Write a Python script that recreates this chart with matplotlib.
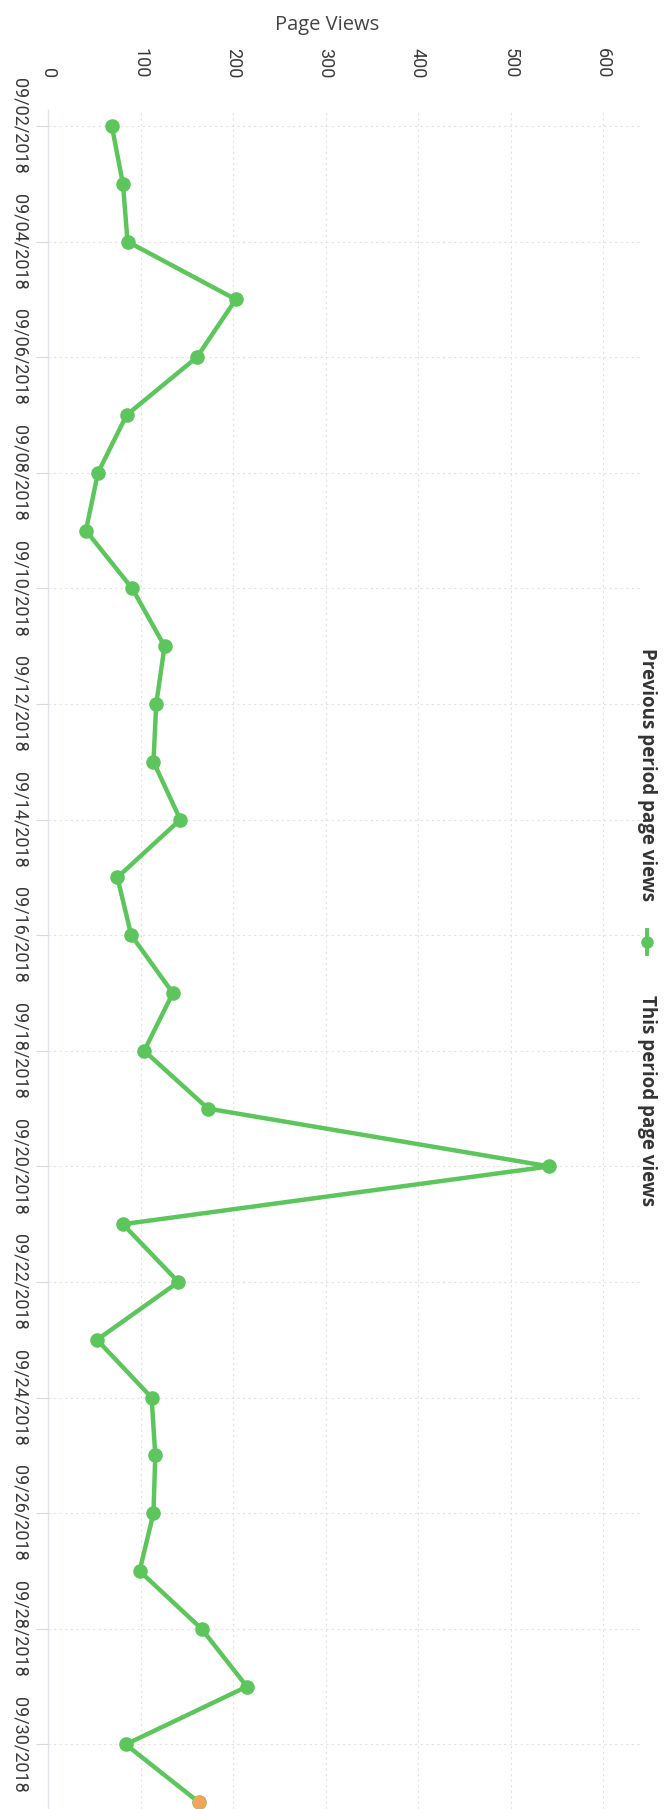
import pandas as pd
import matplotlib.pyplot as plt
from matplotlib.lines import Line2D

# ----------------------------------------------------
# Data
# ----------------------------------------------------
dates = pd.date_range("2018-09-02", "2018-10-01", freq="D")
this_period = [69, 81, 86, 203, 161, 85, 54, 41, 91, 126,
               117, 114, 143, 75, 90, 135, 104, 173, 542, 81,
               141, 53, 112, 116, 114, 99, 166, 215, 84, 163]
previous_dates = ["2018-10-01"]
previous_period = [163]
value_ticks = [0, 100, 200, 300, 400, 500, 600]

GREEN = "#5cc65c"
ORANGE = "#f2a55a"
TEXT = "#3a3a3a"

W, H = 667, 1809
fig = plt.figure(figsize=(W / 100, H / 100), dpi=100)

# chart is drawn turned a quarter turn: values run left->right, dates top->bottom
ax_left, ax_right, ax_top = 48, 640, 110
ax = fig.add_axes([ax_left / W, 0, (ax_right - ax_left) / W, (H - ax_top) / H])

day = [(d - dates[0]).days for d in dates]
prev_day = [(pd.Timestamp(d) - dates[0]).days for d in previous_dates]

ax.plot(this_period, day, color=GREEN, lw=3.2, marker="o", ms=10.5,
        markeredgewidth=0, solid_joinstyle="round", zorder=3)
ax.plot(previous_period, prev_day, color=ORANGE, lw=0, marker="o", ms=10,
        markeredgewidth=0, zorder=4)

# ----------------------------------------------------
# Axes layout
# ----------------------------------------------------
step = 57.8  # px per day
ax.set_ylim((H - 126) / step, (ax_top - 126) / step)
ax.set_xlim(0, (ax_right - ax_left) / 0.925)

ax.xaxis.tick_top()
ax.set_xticks(value_ticks)
ax.set_xticklabels([str(v) for v in value_ticks], rotation=270,
                   fontfamily="Roboto", fontsize=13, color=TEXT)
ax.tick_params(axis="x", length=0, pad=23)

tick_days = day[::2][:15]
ax.set_yticks(tick_days)
ax.set_yticklabels([dates[i].strftime("%m/%d/%Y") for i in tick_days],
                   rotation=270, fontfamily="Roboto", fontsize=13, color=TEXT,
                   va="center")
ax.tick_params(axis="y", length=9, color="#d5d9de", width=0.8, pad=5)

for s in ["top", "right", "bottom"]:
    ax.spines[s].set_visible(False)
ax.spines["left"].set_color("#dfe4ea")
ax.spines["left"].set_linewidth(1)

ax.grid(True, color="#e2e2e2", lw=0.8, ls=(0, (2, 3)))
ax.set_axisbelow(True)

# ----------------------------------------------------
# Axis title and legend (turned as well)
# ----------------------------------------------------
fig.text(327 / W, 1 - 25 / H, "Page Views", ha="center", va="center",
         fontfamily="Open Sans", fontsize=14.5, color="#444444")

legend_x = 647 / W
fig.text(legend_x, 1 - 775 / H, "Previous period page views", rotation=270,
         ha="center", va="center", fontfamily="Open Sans", fontweight="bold",
         fontsize=13.5, color="#333333")
fig.add_artist(Line2D([legend_x, legend_x], [1 - 930 / H, 1 - 954 / H],
                      transform=fig.transFigure, color=GREEN, lw=2.8))
fig.add_artist(Line2D([legend_x], [1 - 942 / H], transform=fig.transFigure,
                      color=GREEN, marker="o", ms=9, markeredgewidth=0))
fig.text(legend_x, 1 - 1101 / H, "This period page views", rotation=270,
         ha="center", va="center", fontfamily="Open Sans", fontweight="bold",
         fontsize=13.5, color="#333333")

fig.savefig("out.png", dpi=100)
